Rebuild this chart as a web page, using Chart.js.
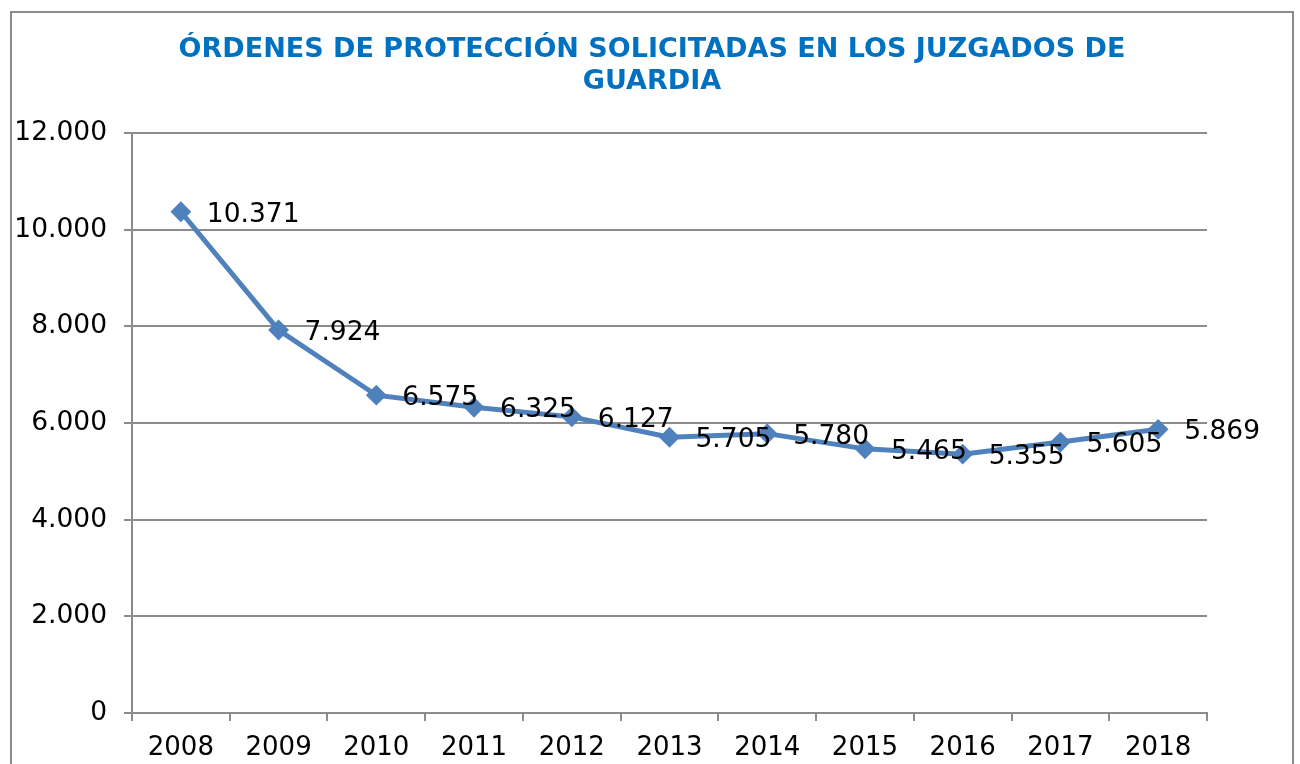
<!DOCTYPE html>
<html>
<head>
<meta charset="utf-8">
<script src="https://cdn.jsdelivr.net/npm/chart.js@4"></script>
<style>
  html, body { margin: 0; padding: 0; background: #fff; }
  #wrap { position: relative; width: 1300px; height: 764px; }
</style>
</head>
<body>
<div id="wrap"><canvas id="ordenesChart" width="1300" height="764"></canvas></div>
<script>
const years = ["2008", "2009", "2010", "2011", "2012", "2013", "2014", "2015", "2016", "2017", "2018"];
const ordenes = [10371, 7924, 6575, 6325, 6127, 5705, 5780, 5465, 5355, 5605, 5869];
const titleLines = ["ÓRDENES DE PROTECCIÓN SOLICITADAS EN LOS JUZGADOS DE", "GUARDIA"];

const fmt = v => v.toLocaleString("de-DE");
const font = "'DejaVu Sans', Verdana, sans-serif";

// outer frame, title (centred on the frame, not the plot) and value labels
const extras = {
  id: "extras",
  beforeDraw(chart) {
    const c = chart.ctx;
    c.save();
    c.strokeStyle = "#8c8c8c";
    c.lineWidth = 2;
    c.strokeRect(11, 12, 1282, 800);

    c.font = "bold 27px " + font;
    c.fillStyle = "#0070C0";
    c.textAlign = "center";
    c.textBaseline = "middle";
    titleLines.forEach((t, i) => c.fillText(t, 652, 50 + i * 32));
    c.restore();
  },
  afterDatasetsDraw(chart) {
    const c = chart.ctx;
    const meta = chart.getDatasetMeta(0);
    c.save();
    c.font = "26.5px " + font;
    c.fillStyle = "#000";
    c.textBaseline = "middle";
    c.textAlign = "left";
    meta.data.forEach((pt, i) => {
      c.fillText(fmt(ordenes[i]), pt.x + 26, pt.y + 3);
    });
    c.restore();
  }
};

const ctx = document.getElementById("ordenesChart").getContext("2d");
new Chart(ctx, {
  type: "line",
  data: {
    labels: years,
    datasets: [{
      label: "Órdenes",
      data: ordenes,
      borderColor: "#4F81BD",
      backgroundColor: "#4F81BD",
      borderWidth: 5,
      pointStyle: "rectRot",
      pointRadius: 9,
      pointBorderWidth: 2,
      tension: 0,
      fill: false
    }]
  },
  options: {
    responsive: false,
    animation: false,
    layout: { padding: { left: 0, right: 93, top: 133, bottom: 0 } },
    plugins: {
      legend: { display: false },
      tooltip: { enabled: false },
      title: { display: false }
    },
    scales: {
      x: {
        offset: true,
        grid: {
          offset: true,
          drawOnChartArea: false,
          drawTicks: true,
          tickLength: 8,
          color: "#8c8c8c",
          lineWidth: 2
        },
        border: { color: "#8c8c8c", width: 2 },
        ticks: {
          color: "#000",
          font: { family: font, size: 26 },
          padding: 12,
          maxRotation: 0
        },
        afterFit(s) { s.height = 51; }
      },
      y: {
        min: 0,
        max: 12000,
        grid: {
          color: "#8c8c8c",
          lineWidth: 2,
          tickLength: 8
        },
        border: { color: "#8c8c8c", width: 2 },
        ticks: {
          stepSize: 2000,
          color: "#000",
          font: { family: font, size: 26.5 },
          padding: 17,
          callback: v => fmt(v)
        },
        afterFit(s) { s.width = 132; }
      }
    }
  },
  plugins: [extras]
});
</script>
</body>
</html>
